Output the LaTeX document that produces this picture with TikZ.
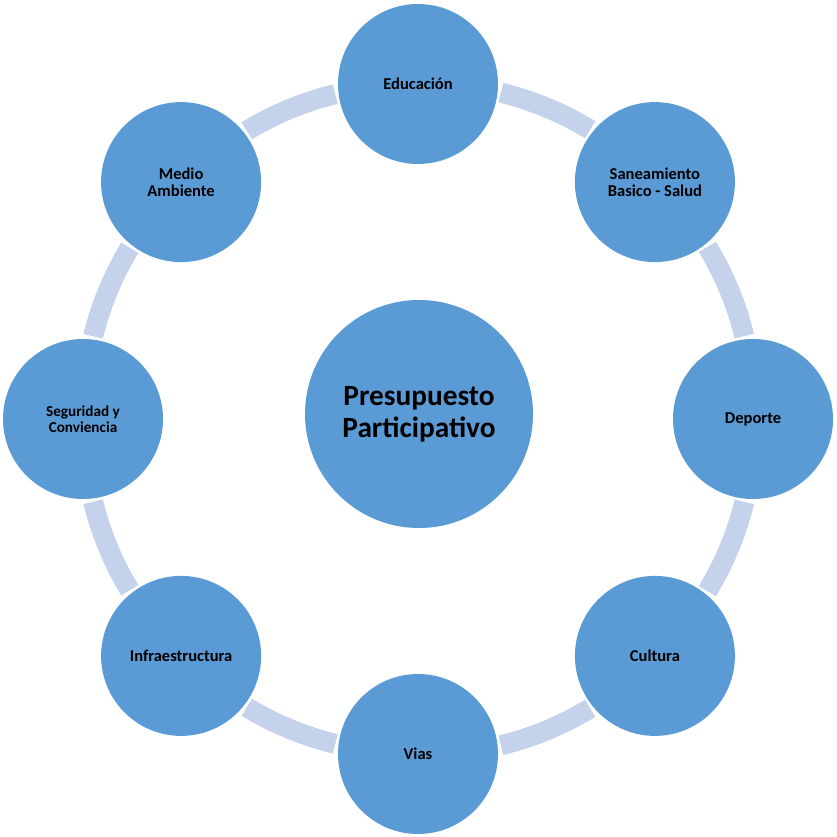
\documentclass[tikz,border=0pt]{standalone}
\usepackage{fontspec}
\setmainfont{Carlito}
\definecolor{bubble}{RGB}{91,155,213}
\definecolor{ringband}{RGB}{197,210,235}
\tikzset{
    topic/.style={circle, fill=bubble, minimum size=120pt, inner sep=0pt,
        outer sep=2.5pt, align=center, font=\fontsize{12.4}{13}\selectfont\bfseries},
    hub/.style={circle, fill=bubble, minimum size=171pt, inner sep=0pt,
        align=center, font=\fontsize{22}{24}\selectfont\bfseries},
    link/.style={draw=ringband, line width=15pt, bend left=8.78, looseness=0.86}
}

\begin{document}
\begin{tikzpicture}[x=0.75pt, y=0.75pt]
%% LAYOUT: ring centre (418,417), radius 335, one topic every 45 deg
\useasboundingbox (0,0) rectangle (837,836);

\node[hub]   (hub)  at (419,422)   {Presupuesto\\Participativo};

\node[topic] (edu)  at (418,752)   {Educación};
\node[topic] (san)  at (654.9,653.9) {Saneamiento\\Basico - Salud};
\node[topic] (dep)  at (753,417)   {Deporte};
\node[topic] (cul)  at (654.9,180.1) {Cultura};
\node[topic] (vias) at (418,82)    {Vias};
\node[topic] (inf)  at (181.1,180.1) {Infraestructura};
\node[topic, font=\fontsize{11.4}{12}\selectfont\bfseries]
             (seg)  at (83,417)    {Seguridad y\\Conviencia};
\node[topic] (med)  at (181.1,653.9) {Medio\\Ambiente};

%% ── RING SEGMENTS (clockwise) ──────────────────────────────────
\draw[link] (edu.-6.86)    to (san.141.86);
\draw[link] (san.-51.86)   to (dep.96.86);
\draw[link] (dep.-96.86)   to (cul.51.86);
\draw[link] (cul.-141.86)  to (vias.6.86);
\draw[link] (vias.173.14)  to (inf.-38.14);
\draw[link] (inf.128.14)   to (seg.-83.14);
\draw[link] (seg.83.14)    to (med.-128.14);
\draw[link] (med.38.14)    to (edu.-173.14);

\end{tikzpicture}
\end{document}
